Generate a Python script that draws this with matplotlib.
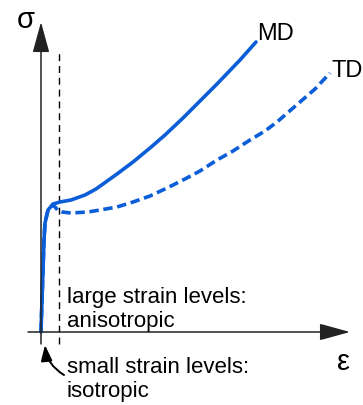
import matplotlib

matplotlib.use("Agg")
import matplotlib.pyplot as plt

# curves (strain, stress in arbitrary units, origin at axis cross)
md_strain = [0, 1, 2, 3, 4, 7, 12, 19, 30, 44, 55, 62, 76, 92, 109, 124, 142, 159, 176, 199, 215]
md_stress = [0, 32, 62, 92, 109, 122, 128, 130, 132, 137, 143, 148, 158, 170, 184, 197, 214,
             231, 248, 272, 290]
td_strain = [0, 1, 2, 3, 4, 7, 12, 15, 17, 21, 30, 47, 59, 76, 92, 109, 126, 142, 159, 176, 192,
             209, 224, 236, 259, 274, 289]
td_stress = [0, 32, 62, 92, 109, 122, 127, 124, 121, 120, 119, 120, 122, 125, 130, 136, 144, 152,
             161, 172, 181, 192, 201, 210, 230, 243, 259]
boundary_strain = 18

BLUE = "#0b5ed7"
FONT = ["Liberation Sans", "DejaVu Sans"]

fig = plt.figure(figsize=(3.63, 4.05), dpi=100)
ax = fig.add_axes([0, 0, 1, 1])
ax.set_xlim(-41, 322)
ax.set_ylim(-73, 332)
ax.axis("off")

arrow = dict(arrowstyle="-|>,head_length=1.9,head_width=0.52", mutation_scale=10,
             lw=1.1, color="#222222", shrinkA=0, shrinkB=0)
ax.annotate("", xy=(0, 310), xytext=(0, -12), arrowprops=arrow)
ax.annotate("", xy=(309, 0), xytext=(-13, 0), arrowprops=arrow)

ax.plot([boundary_strain] * 2, [-12, 280], color="black", lw=1.0, ls=(0, (5, 3.5)))

ax.plot(td_strain, td_stress, color=BLUE, lw=2.6, ls=(0, (2.6, 1.3)))
ax.plot(md_strain, md_stress, color=BLUE, lw=2.6, solid_capstyle="round")

ax.text(-15, 312, "σ", fontsize=21, family=FONT, va="center", ha="center")
ax.text(302, -30, "ε", fontsize=21, family=FONT, va="center", ha="center")
ax.text(216, 292, "MD", fontsize=17, family=FONT, va="baseline", ha="left")
ax.text(291, 255, "TD", fontsize=17, family=FONT, va="baseline", ha="left")
ax.text(26, 29, "large strain levels:", fontsize=16, family=FONT, va="baseline", ha="left")
ax.text(26, 5, "anisotropic", fontsize=16, family=FONT, va="baseline", ha="left")
ax.text(26, -41, "small strain levels:", fontsize=16, family=FONT, va="baseline", ha="left")
ax.text(26, -65, "isotropic", fontsize=16, family=FONT, va="baseline", ha="left")

ax.annotate("", xy=(4, -13), xytext=(23, -43),
            arrowprops=dict(arrowstyle="-|>,head_length=0.95,head_width=0.34", mutation_scale=10,
                            lw=1.4, color="black", shrinkA=0, shrinkB=0,
                            connectionstyle="arc3,rad=-0.25"))

fig.savefig("out.png", dpi=100)
